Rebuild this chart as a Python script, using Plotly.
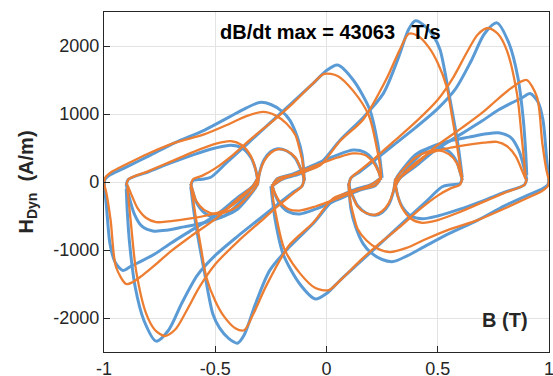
import plotly.graph_objects as go

# ---------------- blue (measured) arcs: B increasing, H > 0 ----------------
b_p5_B = [-1.0, -0.995, -0.97, -0.90, -0.80, -0.68, -0.55, -0.44, -0.36, -0.30, -0.25, -0.20, -0.165, -0.13, -0.11, -0.10]
b_p5_H = [-120, 40, 110, 220, 380, 580, 760, 950, 1090, 1170, 1140, 1040, 910, 650, 400, 30]
b_p1_B = [-0.24, -0.20, -0.12, -0.03, 0.06, 0.165, 0.255, 0.32, 0.37, 0.40, 0.44, 0.48, 0.51, 0.55, 0.59, 0.61]
b_p1_H = [-50, 40, 120, 270, 610, 950, 1300, 1800, 2250, 2370, 2300, 2150, 1950, 1300, 570, 70]
b_p2_B = [-0.61, -0.60, -0.56, -0.52, -0.45, -0.35, -0.25, -0.15, -0.06, 0.0, 0.05, 0.12, 0.195, 0.23, 0.245, 0.25]
b_p2_H = [-50, 20, 40, 70, 280, 580, 880, 1180, 1450, 1640, 1720, 1500, 1060, 570, 210, 60]
b_p3_B = [0.10, 0.11, 0.15, 0.22, 0.30, 0.40, 0.50, 0.58, 0.65, 0.71, 0.766, 0.82, 0.86, 0.885, 0.895, 0.90]
b_p3_H = [-50, 60, 150, 330, 540, 800, 1080, 1370, 1780, 2180, 2340, 2040, 1540, 900, 450, 100]
b_p4_B = [0.31, 0.33, 0.40, 0.49, 0.61, 0.70, 0.77, 0.83, 0.88, 0.915, 0.95, 0.973, 0.99, 1.0]
b_p4_H = [-50, 60, 230, 470, 715, 900, 1055, 1160, 1240, 1300, 1180, 910, 320, 30]
b_lx_B = [-0.24, -0.22, -0.15, -0.05, 0.05, 0.12, 0.17, 0.21, 0.235, 0.245]
b_lx_H = [-30, 50, 120, 260, 400, 470, 440, 320, 150, 30]
b_ly_B = [0.31, 0.315, 0.35, 0.40, 0.46, 0.50, 0.55, 0.585, 0.60, 0.61]
b_ly_H = [-50, 60, 220, 400, 500, 520, 450, 300, 150, 30]
b_lz_B = [0.31, 0.33, 0.40, 0.46, 0.55, 0.64, 0.72, 0.78, 0.83, 0.865, 0.89, 0.90]
b_lz_H = [-50, 60, 330, 500, 600, 660, 710, 720, 650, 460, 180, 40]
b_lw_B = [-0.90, -0.89, -0.80, -0.70, -0.60, -0.50, -0.43, -0.38, -0.34, -0.32, -0.31]
b_lw_H = [-50, 40, 150, 280, 400, 500, 540, 500, 360, 200, 40]
b_ls_B = [-0.31, -0.30, -0.28, -0.25, -0.22, -0.18, -0.14, -0.12, -0.105, -0.10]
b_ls_H = [-50, 150, 330, 450, 490, 460, 350, 220, 100, 20]

# ---------------- blue troughs: B decreasing, H < 0 ----------------
b_t5_B = [1.0, 0.995, 0.97, 0.90, 0.80, 0.68, 0.55, 0.44, 0.36, 0.30, 0.25, 0.20, 0.165, 0.13, 0.11, 0.10]
b_t5_H = [120, -40, -100, -200, -350, -560, -760, -950, -1090, -1170, -1140, -1040, -910, -650, -400, -30]
b_t1_B = [0.24, 0.20, 0.12, 0.03, -0.06, -0.165, -0.255, -0.32, -0.37, -0.40, -0.44, -0.48, -0.51, -0.55, -0.59, -0.61]
b_t1_H = [50, -40, -120, -270, -610, -950, -1300, -1800, -2250, -2370, -2300, -2150, -1950, -1300, -570, -70]
b_t2_B = [0.61, 0.60, 0.56, 0.52, 0.45, 0.35, 0.25, 0.15, 0.06, 0.0, -0.05, -0.12, -0.195, -0.23, -0.245, -0.25]
b_t2_H = [50, -20, -40, -70, -280, -580, -880, -1180, -1450, -1640, -1720, -1500, -1060, -570, -210, -60]
b_t3_B = [-0.10, -0.11, -0.15, -0.22, -0.30, -0.40, -0.50, -0.58, -0.65, -0.71, -0.766, -0.82, -0.86, -0.885, -0.895, -0.90]
b_t3_H = [50, -60, -150, -330, -540, -800, -1080, -1370, -1780, -2180, -2340, -2040, -1540, -900, -450, -100]
b_t4_B = [-0.31, -0.33, -0.40, -0.49, -0.61, -0.70, -0.77, -0.83, -0.88, -0.915, -0.95, -0.973, -0.99, -1.0]
b_t4_H = [50, -60, -230, -470, -715, -900, -1055, -1160, -1240, -1300, -1180, -910, -320, -30]
b_tx_B = [0.24, 0.22, 0.15, 0.05, -0.05, -0.12, -0.17, -0.21, -0.235, -0.245]
b_tx_H = [30, -50, -120, -260, -400, -470, -440, -320, -150, -30]
b_ty_B = [-0.31, -0.315, -0.35, -0.40, -0.46, -0.50, -0.55, -0.585, -0.60, -0.61]
b_ty_H = [50, -60, -220, -400, -500, -520, -450, -300, -150, -30]
b_tz_B = [-0.31, -0.33, -0.40, -0.46, -0.55, -0.64, -0.72, -0.78, -0.83, -0.865, -0.89, -0.90]
b_tz_H = [50, -60, -330, -500, -600, -660, -710, -720, -650, -460, -180, -40]
b_tw_B = [0.90, 0.89, 0.80, 0.70, 0.60, 0.50, 0.43, 0.38, 0.34, 0.32, 0.31]
b_tw_H = [50, -40, -150, -280, -400, -500, -540, -500, -360, -200, -40]
b_ts_B = [0.31, 0.30, 0.28, 0.25, 0.22, 0.18, 0.14, 0.12, 0.105, 0.10]
b_ts_H = [50, -150, -330, -450, -490, -460, -350, -220, -100, -20]

# ---------------- orange (model) arcs ----------------
o_p5_B = [-1.0, -0.995, -0.97, -0.90, -0.80, -0.68, -0.55, -0.44, -0.36, -0.285, -0.23, -0.18, -0.14, -0.12, -0.105, -0.10]
o_p5_H = [-80, 60, 140, 260, 420, 580, 700, 850, 970, 1030, 980, 860, 690, 470, 250, 30]
o_p1_B = [-0.24, -0.20, -0.12, -0.03, 0.06, 0.165, 0.27, 0.33, 0.37, 0.41, 0.46, 0.50, 0.54, 0.565, 0.585, 0.60, 0.61]
o_p1_H = [-50, 40, 130, 240, 600, 920, 1520, 1950, 2180, 2150, 1980, 1750, 1400, 950, 570, 250, 60]
o_p2_B = [-0.61, -0.60, -0.56, -0.50, -0.42, -0.33, -0.24, -0.15, -0.07, -0.01, 0.05, 0.12, 0.19, 0.225, 0.243, 0.245]
o_p2_H = [-50, 40, 90, 200, 400, 660, 900, 1160, 1420, 1590, 1560, 1340, 980, 520, 180, 60]
o_p3_B = [0.10, 0.11, 0.15, 0.22, 0.30, 0.40, 0.50, 0.57, 0.63, 0.68, 0.726, 0.77, 0.81, 0.856, 0.88, 0.895]
o_p3_H = [-50, 60, 170, 360, 590, 880, 1210, 1540, 1900, 2170, 2265, 2180, 1940, 1300, 570, 80]
o_p4_B = [0.31, 0.33, 0.40, 0.49, 0.61, 0.70, 0.77, 0.83, 0.87, 0.90, 0.946, 0.97, 0.99, 1.0]
o_p4_H = [-50, 60, 250, 520, 800, 1020, 1220, 1380, 1470, 1500, 1250, 570, 150, 30]
o_lx_B = [-0.24, -0.22, -0.15, -0.05, 0.05, 0.12, 0.17, 0.21, 0.235, 0.245]
o_lx_H = [-30, 50, 110, 240, 360, 420, 400, 290, 140, 30]
o_ly_B = [0.31, 0.315, 0.35, 0.40, 0.46, 0.50, 0.55, 0.585, 0.60, 0.61]
o_ly_H = [-50, 60, 200, 360, 450, 470, 410, 280, 140, 30]
o_lz_B = [0.31, 0.33, 0.40, 0.46, 0.55, 0.64, 0.71, 0.766, 0.81, 0.85, 0.88, 0.895]
o_lz_H = [-50, 60, 280, 420, 500, 550, 580, 590, 530, 380, 160, 40]
o_lw_B = [-0.90, -0.89, -0.80, -0.70, -0.60, -0.50, -0.43, -0.38, -0.34, -0.32, -0.31]
o_lw_H = [-50, 40, 160, 300, 440, 560, 600, 540, 380, 200, 40]
o_ls_B = [-0.31, -0.30, -0.28, -0.25, -0.22, -0.18, -0.14, -0.12, -0.105, -0.10]
o_ls_H = [-50, 140, 310, 430, 480, 460, 360, 230, 100, 20]

# ---------------- orange troughs ----------------
o_t5_B = [1.0, 0.995, 0.97, 0.90, 0.80, 0.68, 0.55, 0.44, 0.36, 0.285, 0.23, 0.18, 0.14, 0.12, 0.105, 0.10]
o_t5_H = [80, -60, -130, -240, -390, -560, -700, -850, -970, -1030, -980, -860, -690, -470, -250, -30]
o_t1_B = [0.24, 0.20, 0.12, 0.03, -0.06, -0.165, -0.27, -0.33, -0.37, -0.41, -0.46, -0.50, -0.54, -0.565, -0.585, -0.60, -0.61]
o_t1_H = [50, -40, -130, -240, -600, -920, -1520, -1950, -2180, -2150, -1980, -1750, -1400, -950, -570, -250, -60]
o_t2_B = [0.61, 0.60, 0.56, 0.50, 0.42, 0.33, 0.24, 0.15, 0.07, 0.01, -0.05, -0.12, -0.19, -0.225, -0.243, -0.245]
o_t2_H = [50, -40, -90, -200, -400, -660, -900, -1160, -1420, -1590, -1560, -1340, -980, -520, -180, -60]
o_t3_B = [-0.10, -0.11, -0.15, -0.22, -0.30, -0.40, -0.50, -0.57, -0.63, -0.68, -0.726, -0.77, -0.81, -0.856, -0.88, -0.895]
o_t3_H = [50, -60, -170, -360, -590, -880, -1210, -1540, -1900, -2170, -2265, -2180, -1940, -1300, -570, -80]
o_t4_B = [-0.31, -0.33, -0.40, -0.49, -0.61, -0.70, -0.77, -0.83, -0.87, -0.90, -0.946, -0.97, -0.99, -1.0]
o_t4_H = [50, -60, -250, -520, -800, -1020, -1220, -1380, -1470, -1500, -1250, -570, -150, -30]
o_tx_B = [0.24, 0.22, 0.15, 0.05, -0.05, -0.12, -0.17, -0.21, -0.235, -0.245]
o_tx_H = [30, -50, -110, -240, -360, -420, -400, -290, -140, -30]
o_ty_B = [-0.31, -0.315, -0.35, -0.40, -0.46, -0.50, -0.55, -0.585, -0.60, -0.61]
o_ty_H = [50, -60, -200, -360, -450, -470, -410, -280, -140, -30]
o_tz_B = [-0.31, -0.33, -0.40, -0.46, -0.55, -0.64, -0.71, -0.766, -0.81, -0.85, -0.88, -0.895]
o_tz_H = [50, -60, -280, -420, -500, -550, -580, -590, -530, -380, -160, -40]
o_tw_B = [0.90, 0.89, 0.80, 0.70, 0.60, 0.50, 0.43, 0.38, 0.34, 0.32, 0.31]
o_tw_H = [50, -40, -160, -300, -440, -560, -600, -540, -380, -200, -40]
o_ts_B = [0.31, 0.30, 0.28, 0.25, 0.22, 0.18, 0.14, 0.12, 0.105, 0.10]
o_ts_H = [50, -140, -310, -430, -480, -460, -360, -230, -100, -20]

x_ticks = [-1, -0.5, 0, 0.5, 1]
x_tick_text = ["-1", "-0.5", "0", "0.5", "1"]
y_ticks = [-2000, -1000, 0, 1000, 2000]
y_tick_text = ["-2000", "-1000", "0", "1000", "2000"]
title_text = "dB/dt max = 43063&nbsp;&nbsp; T/s"

blue_segments = [
    (b_p5_B, b_p5_H), (b_p1_B, b_p1_H), (b_p2_B, b_p2_H), (b_p3_B, b_p3_H), (b_p4_B, b_p4_H),
    (b_lx_B, b_lx_H), (b_ly_B, b_ly_H), (b_lz_B, b_lz_H), (b_lw_B, b_lw_H), (b_ls_B, b_ls_H),
    (b_t5_B, b_t5_H), (b_t1_B, b_t1_H), (b_t2_B, b_t2_H), (b_t3_B, b_t3_H), (b_t4_B, b_t4_H),
    (b_tx_B, b_tx_H), (b_ty_B, b_ty_H), (b_tz_B, b_tz_H), (b_tw_B, b_tw_H), (b_ts_B, b_ts_H),
]
orange_segments = [
    (o_p5_B, o_p5_H), (o_p1_B, o_p1_H), (o_p2_B, o_p2_H), (o_p3_B, o_p3_H), (o_p4_B, o_p4_H),
    (o_lx_B, o_lx_H), (o_ly_B, o_ly_H), (o_lz_B, o_lz_H), (o_lw_B, o_lw_H), (o_ls_B, o_ls_H),
    (o_t5_B, o_t5_H), (o_t1_B, o_t1_H), (o_t2_B, o_t2_H), (o_t3_B, o_t3_H), (o_t4_B, o_t4_H),
    (o_tx_B, o_tx_H), (o_ty_B, o_ty_H), (o_tz_B, o_tz_H), (o_tw_B, o_tw_H), (o_ts_B, o_ts_H),
]

fig = go.Figure()
for segs, color, width in [(blue_segments, "rgb(91,155,213)", 3.0), (orange_segments, "rgb(237,125,49)", 2.3)]:
    for xs, ys in segs:
        fig.add_trace(go.Scatter(x=xs, y=ys, mode="lines",
                                 line=dict(color=color, width=width, shape="spline", smoothing=0.8),
                                 showlegend=False, hoverinfo="skip"))

font_family = "Liberation Sans, Arial, Helvetica"
axis_common = dict(showline=True, linecolor="#262626", linewidth=1.3, mirror=True,
                   ticks="inside", ticklen=6, tickcolor="#262626", automargin=False,
                   ticklabeloverflow="allow",
                   showgrid=True, gridcolor="#e3e3e3", gridwidth=1, zeroline=False,
                   tickfont=dict(family=font_family, size=18, color="#262626"))

fig.update_layout(
    width=553, height=376,
    margin=dict(l=104, r=4, t=12, b=24),
    paper_bgcolor="white", plot_bgcolor="white",
    xaxis=dict(range=[-1, 1], tickvals=x_ticks, ticktext=x_tick_text, **axis_common),
    yaxis=dict(range=[-2500, 2500], tickvals=y_ticks, ticktext=y_tick_text,
               title=dict(text="<b>H<sub>Dyn</sub>  (A/m)</b>", standoff=14,
                          font=dict(family=font_family, size=20, color="#262626")),
               **axis_common),
    annotations=[
        dict(text="<b>" + title_text + "</b>", x=0.508, y=0.941, xref="paper", yref="paper",
             xanchor="center", yanchor="middle",
             showarrow=False, font=dict(family=font_family, size=20, color="#000000")),
        dict(text="<b>B (T)</b>", x=0.901, y=0.094, xref="paper", yref="paper",
             xanchor="center", yanchor="middle",
             showarrow=False, font=dict(family=font_family, size=20, color="#262626")),
    ],
)

# remove the default 8 px page margin so the 553x376 figure fills the window exactly
fig.write_html("out.html", config={"displayModeBar": False},
               post_script="document.body.style.margin='0';document.body.style.overflow='hidden';")
